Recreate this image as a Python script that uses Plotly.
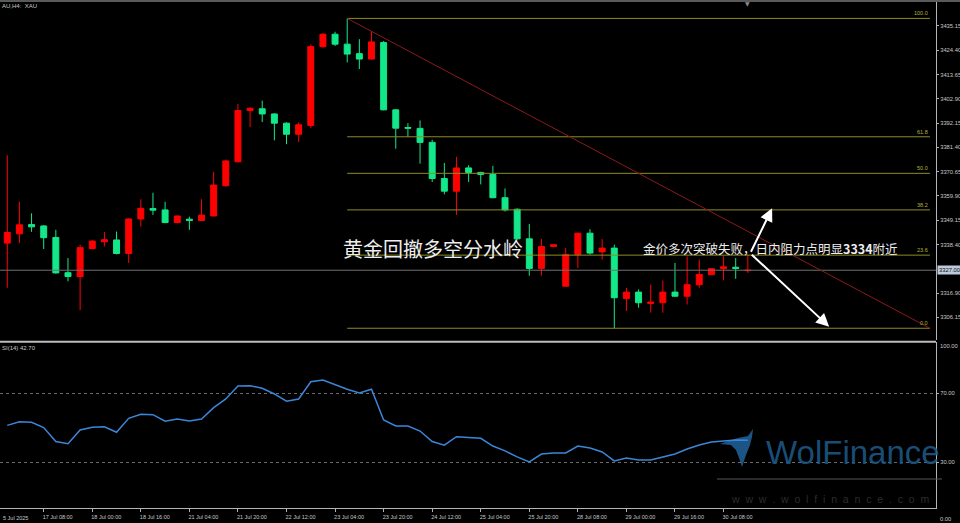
import plotly.graph_objects as go

# ---------------- data ----------------
bars = list(range(62))
opens = [3339.0, 3343.1, 3347.2, 3346.6, 3341.5, 3325.9, 3324.2, 3336.6, 3339.6, 3340.4,
         3334.4, 3349.7, 3354.3, 3353.7, 3348.1, 3349.6, 3349.0, 3351.0, 3364.4, 3375.0,
         3397.7, 3398.5, 3396.2, 3392.1, 3387.2, 3391.1, 3426.0, 3431.5, 3427.1, 3422.9,
         3420.5, 3427.8, 3398.0, 3390.2, 3389.8, 3383.6, 3367.6, 3362.0, 3372.3, 3370.3,
         3369.4, 3359.1, 3354.0, 3340.9, 3327.8, 3337.5, 3319.9, 3333.9, 3343.4, 3335.1,
         3336.8, 3314.5, 3317.3, 3312.3, 3312.6, 3317.3, 3315.5, 3320.6, 3325.0, 3327.7,
         3328.3, 3326.8]
highs = [3377.9, 3357.3, 3352.2, 3347.0, 3344.9, 3332.4, 3338.3, 3340.3, 3343.9, 3344.1,
         3350.0, 3358.4, 3361.3, 3357.3, 3351.3, 3350.7, 3358.4, 3370.6, 3376.0, 3400.7,
         3399.2, 3402.1, 3396.5, 3392.5, 3392.5, 3427.0, 3432.0, 3432.6, 3438.5, 3429.3,
         3432.9, 3428.5, 3398.3, 3392.1, 3393.3, 3384.8, 3374.5, 3377.2, 3373.5, 3370.6,
         3373.2, 3363.2, 3354.4, 3347.5, 3340.8, 3338.5, 3336.8, 3343.6, 3345.2, 3340.8,
         3338.3, 3319.2, 3318.5, 3320.6, 3322.4, 3330.2, 3333.1, 3331.7, 3327.9, 3333.1,
         3332.4, 3333.9]
lows = [3319.2, 3339.0, 3344.0, 3336.4, 3325.5, 3322.1, 3309.3, 3336.4, 3337.5, 3334.0,
        3330.2, 3346.3, 3351.5, 3347.8, 3347.8, 3344.9, 3348.8, 3350.9, 3364.0, 3374.8,
        3390.4, 3392.6, 3384.5, 3382.8, 3383.8, 3390.0, 3425.5, 3426.3, 3419.0, 3416.1,
        3420.3, 3397.8, 3380.8, 3386.0, 3374.2, 3366.1, 3360.6, 3351.5, 3366.1, 3365.0,
        3358.9, 3353.0, 3340.7, 3324.6, 3324.6, 3337.2, 3319.7, 3328.0, 3333.9, 3331.7,
        3301.3, 3308.9, 3310.4, 3308.2, 3308.2, 3315.3, 3311.8, 3319.2, 3324.8, 3322.5,
        3323.2, 3325.8]
closes = [3343.7, 3347.1, 3346.2, 3341.4, 3325.8, 3324.2, 3337.0, 3339.9, 3340.5, 3334.4,
          3349.7, 3354.4, 3353.6, 3348.1, 3351.0, 3349.0, 3351.4, 3364.7, 3375.4, 3397.7,
          3398.7, 3396.2, 3392.1, 3387.2, 3391.4, 3426.0, 3431.5, 3427.1, 3422.7, 3420.5,
          3428.1, 3398.0, 3389.9, 3389.9, 3383.6, 3367.6, 3362.0, 3372.3, 3370.3, 3369.4,
          3359.1, 3353.7, 3340.9, 3327.8, 3337.5, 3338.3, 3333.9, 3343.4, 3334.6, 3336.8,
          3314.8, 3317.3, 3312.6, 3312.9, 3317.3, 3315.5, 3320.6, 3325.1, 3327.7, 3328.5,
          3327.8, 3327.0]
rsi = [51.4, 53.5, 53.2, 50.1, 42.0, 40.8, 48.7, 50.3, 50.6, 47.4,
       55.5, 57.8, 57.6, 53.8, 55.1, 53.9, 55.1, 61.7, 66.7, 74.2,
       74.4, 72.9, 69.6, 65.4, 66.7, 76.7, 77.7, 75.0, 72.3, 70.2,
       72.3, 54.5, 51.0, 51.0, 48.1, 42.0, 39.9, 44.8, 44.3, 43.9,
       39.4, 36.6, 33.1, 30.2, 34.8, 35.4, 35.4, 39.4, 38.3, 36.0,
       30.8, 32.5, 31.3, 31.3, 33.1, 34.8, 37.7, 40.0, 41.8, 42.3,
       42.9, 42.7]

x_tick_bars = [3, 7, 11, 15, 19, 23, 27, 31, 35, 39, 43, 47, 51, 55, 59]
x_tick_labels = ["17 Jul 08:00", "18 Jul 00:00", "18 Jul 16:00", "21 Jul 04:00", "21 Jul 20:00",
                 "22 Jul 12:00", "23 Jul 04:00", "23 Jul 20:00", "24 Jul 12:00", "25 Jul 04:00",
                 "25 Jul 20:00", "28 Jul 08:00", "29 Jul 00:00", "29 Jul 16:00", "30 Jul 08:00"]
first_date_label = "5 Jul 2025"
price_ticks = [3445.90, 3435.15, 3424.40, 3413.65, 3402.90, 3392.15, 3381.40, 3370.65,
               3359.90, 3349.15, 3338.40, 3316.90, 3306.15]
rsi_ticks = [30, 70]
current_price = 3327.00
rsi_label = "SI(14) 42.70"

fib_levels = [100.0, 61.8, 50.0, 38.2, 23.6, 0.0]
fib_start_bar, fib_end_bar = 28, 76
fib_high = highs[fib_start_bar]
fib_low = lows[50]

arrow_tail = (61.2, 3334.5)
arrow_up_head = (63.0, 3354.4)
arrow_down_head = (67.7, 3302.0)

# ---------------- geometry helpers (plot area 936 x 508 px) ----------------
PW, PH = 936.0, 508.0
def px(x):
    return x / PW
def py(y):
    return 1 - y / PH

UP = "#FF0000"
DOWN = "#12E88A"
AXC = "#B4B4B4"
TXT = "#C8C8C8"
FIB = "#B4B438"
FONT = "Liberation Sans"

fig = go.Figure()
fig.add_trace(go.Candlestick(
    x=bars, open=opens, high=highs, low=lows, close=closes,
    increasing=dict(line=dict(color=UP, width=1), fillcolor=UP),
    decreasing=dict(line=dict(color=DOWN, width=1), fillcolor=DOWN),
    whiskerwidth=0, xaxis="x", yaxis="y", hoverinfo="skip"))
fig.add_trace(go.Scatter(x=bars, y=rsi, mode="lines",
                         line=dict(color="#3B86D8", width=1.5),
                         xaxis="x", yaxis="y2", hoverinfo="skip"))

shapes = []
shapes.append(dict(type="line", xref="paper", yref="y", x0=0, x1=1,
                   y0=current_price, y1=current_price, line=dict(color="#707070", width=1)))
for lv in fib_levels:
    yv = fib_low + (fib_high - fib_low) * lv / 100.0
    shapes.append(dict(type="line", xref="x", yref="y", x0=fib_start_bar, x1=fib_end_bar,
                       y0=yv, y1=yv, line=dict(color="#8C8C24", width=1)))
shapes.append(dict(type="line", xref="x", yref="y", x0=fib_start_bar, x1=fib_end_bar,
                   y0=fib_high, y1=fib_low, line=dict(color="#8B1A1A", width=1)))
shapes.append(dict(type="line", xref="paper", yref="paper", x0=0, x1=1,
                   y0=py(341.8), y1=py(341.8), line=dict(color="#BEBEBE", width=2)))
shapes.append(dict(type="rect", xref="paper", yref="paper", x0=0, x1=960 / PW,
                   y0=py(2), y1=py(-3), fillcolor="#5A5A5A", line=dict(width=0)))
shapes.append(dict(type="line", xref="paper", yref="paper", x0=px(717), x1=px(942),
                   y0=py(479), y1=py(479), line=dict(color="#555555", width=1)))
logo = [(753, 429), (748, 436), (738, 438), (728, 441), (720, 444), (731, 445), (736, 450),
        (739, 458), (742, 467), (746, 455), (750, 445), (752, 437)]
path = "M " + " L ".join(f"{px(a):.5f},{py(b):.5f}" for a, b in logo) + " Z"
shapes.append(dict(type="path", xref="paper", yref="paper", path=path,
                   fillcolor="rgba(31,94,148,0.9)", line=dict(width=0), layer="below"))

ann = []
for lv in fib_levels:
    yv = fib_low + (fib_high - fib_low) * lv / 100.0
    ann.append(dict(x=fib_end_bar, y=yv, xref="x", yref="y", text=f"{lv:.1f}",
                    showarrow=False, xanchor="right", yanchor="bottom",
                    font=dict(family=FONT, size=5.5, color=FIB)))
ann.append(dict(x=px(0), y=py(6), xref="paper", yref="paper", text="AU,H4:  XAU",
                showarrow=False, xanchor="left", yanchor="middle",
                font=dict(family=FONT, size=6, color=TXT)))
ann.append(dict(x=px(0), y=py(348), xref="paper", yref="paper", text=rsi_label,
                showarrow=False, xanchor="left", yanchor="middle",
                font=dict(family=FONT, size=6, color=TXT)))
ann.append(dict(x=px(747), y=py(4), xref="paper", yref="paper", text="▼",
                showarrow=False, xanchor="center", yanchor="middle",
                font=dict(family="DejaVu Sans", size=6, color="#8A8A8A")))
ann.append(dict(x=px(1), y=py(518), xref="paper", yref="paper", text=first_date_label,
                showarrow=False, xanchor="left", yanchor="middle",
                font=dict(family=FONT, size=5.5, color=TXT)))
ann.append(dict(x=1, y=current_price, xref="paper", yref="y", text=f"{current_price:.2f}",
                showarrow=False, xanchor="left", yanchor="middle", xshift=1,
                bgcolor="#BCCADB", borderpad=1,
                font=dict(family=FONT, size=5.8, color="#101010")))
ann.append(dict(x=1, y=py(345.7), xref="paper", yref="paper", text="100.00",
                showarrow=False, xanchor="left", yanchor="middle", xshift=2,
                font=dict(family=FONT, size=5.8, color=TXT)))
ann.append(dict(x=1, y=py(519), xref="paper", yref="paper", text="0.00",
                showarrow=False, xanchor="left", yanchor="middle", xshift=2,
                font=dict(family=FONT, size=5.8, color=TXT)))
ann.append(dict(x=px(764), y=py(452), xref="paper", yref="paper", text="WolFinance",
                showarrow=False, xanchor="left", yanchor="middle",
                font=dict(family=FONT, size=33, color="rgba(28,88,135,0.9)")))
ann.append(dict(x=px(830), y=py(499), xref="paper", yref="paper",
                text="\u00a0\u00a0".join("www.wolfinance.com"),
                showarrow=False, xanchor="center", yanchor="middle",
                font=dict(family=FONT, size=10.5, color="#2C2C2C")))
ann.append(dict(x=px(341), y=py(248), xref="paper", yref="paper", text="黄金回撤多空分水岭",
                showarrow=False, xanchor="left", yanchor="middle",
                font=dict(family="Noto Sans CJK SC", size=20, color="#EDEDED")))
ann.append(dict(x=px(641), y=py(248), xref="paper", yref="paper",
                text="金价多次突破失败，日内阻力点明显<b>3334</b>附近",
                showarrow=False, xanchor="left", yanchor="middle",
                font=dict(family="Noto Sans CJK SC", size=12.5, color="#EDEDED")))
for head in (arrow_up_head, arrow_down_head):
    ann.append(dict(x=head[0], y=head[1], ax=arrow_tail[0], ay=arrow_tail[1],
                    xref="x", yref="y", axref="x", ayref="y", text="",
                    showarrow=True, arrowhead=2, arrowsize=1.3, arrowwidth=2,
                    arrowcolor="#FFFFFF"))

fig.update_layout(
    width=960, height=523,
    margin=dict(l=0, r=24, t=0, b=15),
    paper_bgcolor="black", plot_bgcolor="black",
    showlegend=False, boxgap=0.3,
    xaxis=dict(domain=[0, 1], range=[-0.6, 76.5], anchor="y2",
               tickmode="array", tickvals=x_tick_bars, ticktext=x_tick_labels,
               ticks="outside", ticklen=3, tickcolor=AXC, showline=True, linecolor=AXC,
               linewidth=1, showgrid=False, zeroline=False, ticklabelshift=14,
               tickfont=dict(family=FONT, size=5.5, color=TXT),
               rangeslider=dict(visible=False), fixedrange=True),
    yaxis=dict(domain=[1 - 340 / PH, 1], range=[3296.1, 3446.65], side="right", anchor="x",
               tickmode="array", tickvals=price_ticks,
               ticktext=[f"{v:.2f}" for v in price_ticks],
               ticks="outside", ticklen=2, tickcolor=AXC, showline=True, linecolor=AXC,
               showgrid=False, zeroline=False,
               tickfont=dict(family=FONT, size=5.8, color=TXT)),
    yaxis2=dict(domain=[0, 1 - 341.5 / PH], range=[3.5, 100], side="right", anchor="x",
                tickmode="array", tickvals=rsi_ticks,
                ticktext=[f"{v:.2f}" for v in rsi_ticks],
                ticks="outside", ticklen=2, tickcolor=AXC, showline=True, linecolor=AXC,
                showgrid=True, gridcolor="#6A6A6A", griddash="dot", gridwidth=1,
                zeroline=False, tickfont=dict(family=FONT, size=5.8, color=TXT)),
    shapes=shapes, annotations=ann,
)

fig.write_html("out.html", config={"displayModeBar": False},
               post_script="document.body.style.margin='0';document.body.style.background='black';")
